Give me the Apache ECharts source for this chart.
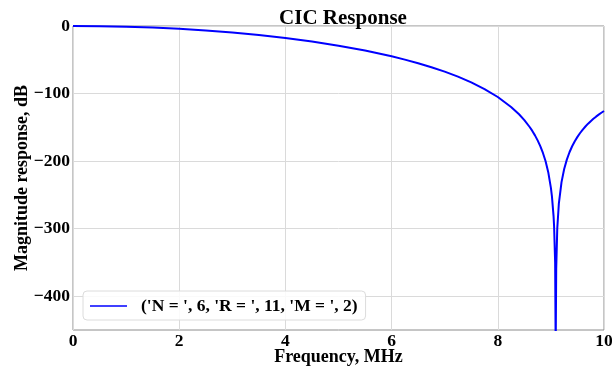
<!DOCTYPE html>
<html>
<head>
<meta charset="utf-8">
<script src="https://cdn.jsdelivr.net/npm/echarts@6/dist/echarts.min.js"></script>
<style>
	html, body { margin: 0; padding: 0; background: #fff; }
	#main { width: 612px; height: 369px; }
</style>
</head>
<body>
<div id="main"></div>
<script>
// frequency (MHz) and magnitude (dB)
var freq = [0, 0.5, 1, 1.5, 2, 2.5, 3, 3.5, 4, 4.5, 5, 5.5, 6, 6.25, 6.5, 6.75, 7, 7.25, 7.5, 7.75,
	8, 8.25, 8.4, 8.5, 8.6, 8.65, 8.7, 8.75, 8.8, 8.85, 8.9, 8.95, 9, 9.02, 9.05, 9.06, 9.08, 9.09, 9.1, 9.12, 9.15,
	9.2, 9.25, 9.3, 9.35, 9.4, 9.45, 9.5, 9.55, 9.6, 9.65, 9.7, 9.75, 9.8, 9.85, 9.9, 9.95, 10];
var magDb = [0, -0.3, -1.0, -2.4, -4.2, -6.7, -9.7, -13.4, -17.8, -23.0, -29.2, -36.4, -44.9, -49.8, -55.1, -61.0, -67.6, -75.0, -83.5, -93.3,
	-105.1, -119.8, -130.7, -139.3, -149.5, -155.3, -161.9, -169.3, -177.8, -187.9, -200.3, -216.4, -239.6, -252.6, -281.5, -296.2, -350.9, -480, -359.3, -299.3, -262.6,
	-231.1, -211.7, -197.8, -186.9, -178.0, -170.5, -164.1, -158.4, -153.3, -148.8, -144.6, -140.9, -137.4, -134.2, -131.2, -128.4, -125.8];
var seriesName = "('N = ', 6, 'R = ', 11, 'M = ', 2)";

var pts = [];
for (var i = 0; i < freq.length; i++) {
	pts.push([freq[i], magDb[i]]);
}

var font = '"Liberation Serif", "Times New Roman", serif';
var myChart = echarts.init(document.getElementById('main'), null, { renderer: 'canvas' });
var option = {
	animation: false,
	backgroundColor: '#fff',
	title: {
		text: 'CIC Response',
		left: 338,
		top: 3,
		textAlign: 'center',
		textStyle: { fontFamily: font, fontWeight: 'bold', fontSize: 21, color: '#000' }
	},
	legend: {
		left: 83,
		top: 291,
		padding: [6, 8, 5, 7],
		itemWidth: 37,
		itemHeight: 12,
		backgroundColor: 'rgba(255,255,255,0.85)',
		borderColor: '#dcdcdc',
		borderWidth: 1,
		borderRadius: 4,
		data: [{ name: seriesName, icon: 'path://M0,0 L37,0 L37,1.5 L0,1.5 Z' }],
		itemStyle: { color: '#0000ff' },
		textStyle: { fontFamily: font, fontWeight: 'bold', fontSize: 17.5, color: '#000', padding: [0, 0, 0, 9] }
	},
	grid: {
		left: 73,
		right: 8,
		top: 26,
		bottom: 39,
		outerBoundsMode: 'none',
		containLabel: false,
		show: true,
		borderColor: '#8c8c8c',
		borderWidth: 1
	},
	xAxis: {
		type: 'value',
		min: 0,
		max: 10,
		interval: 2,
		name: 'Frequency, MHz',
		nameLocation: 'middle',
		nameGap: 18,
		nameMoveOverlap: false,
		nameTextStyle: { fontFamily: font, fontWeight: 'bold', fontSize: 18, color: '#000' },
		axisLine: { show: false },
		axisTick: { show: false },
		axisLabel: { margin: 2, fontFamily: font, fontWeight: 'bold', fontSize: 17.5, color: '#000' },
		splitLine: { lineStyle: { color: '#dadada', width: 1 } }
	},
	yAxis: {
		type: 'value',
		min: -450,
		max: 0,
		interval: 50,
		name: 'Magnitude response, dB',
		nameLocation: 'middle',
		nameRotate: 90,
		nameGap: 42,
		nameMoveOverlap: false,
		nameTextStyle: { fontFamily: font, fontWeight: 'bold', fontSize: 18, color: '#000' },
		axisLine: { show: false },
		axisTick: { show: false },
		axisLabel: {
			margin: 3,
			fontFamily: font,
			fontWeight: 'bold',
			fontSize: 17.5,
			color: '#000',
			formatter: function(v) {
				if (v % 100 !== 0) return '';
				return String(v).replace('-', '\u2212');
			}
		},
		// gridlines only on the hundreds
		splitLine: { showMinLine: true, lineStyle: { color: ['rgba(0,0,0,0)', '#dadada'], width: 1 } }
	},
	series: [{
		name: seriesName,
		type: 'line',
		data: pts,
		symbol: 'none',
		showSymbol: false,
		clip: true,
		lineStyle: { color: '#0000ff', width: 2 },
		itemStyle: { color: '#0000ff' }
	}]
};
myChart.setOption(option);
</script>
</body>
</html>
